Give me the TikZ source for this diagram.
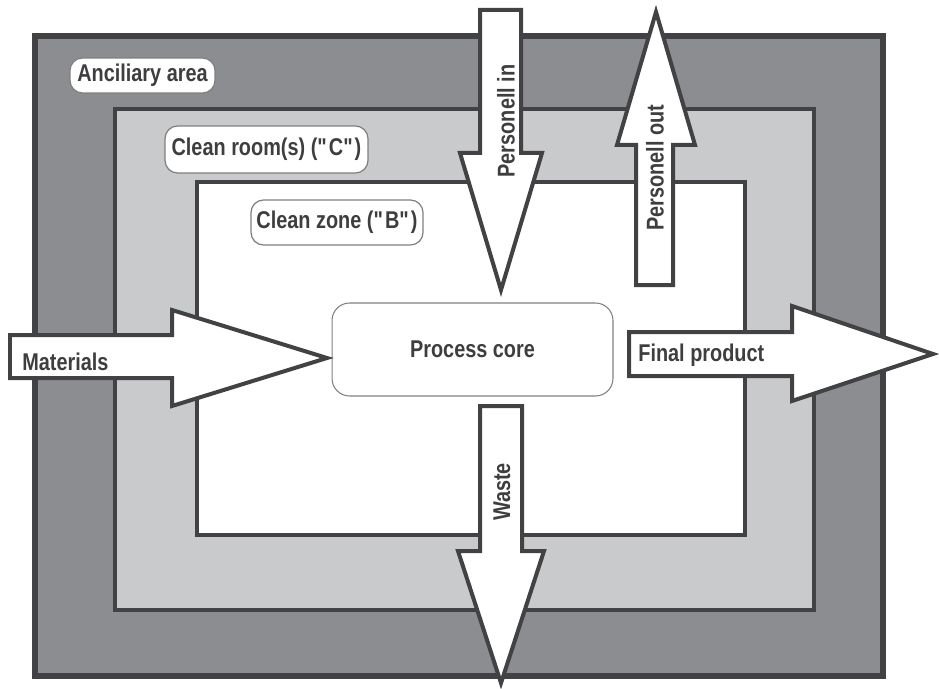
\documentclass[tikz,border=0pt]{standalone}
\usepackage{fontspec}
\setmainfont{Liberation Sans}[FakeStretch=0.82]

\definecolor{wallgray}{RGB}{66,66,68}
\definecolor{outergray}{RGB}{140,141,145}
\definecolor{roomgray}{RGB}{201,202,204}
\definecolor{textgray}{RGB}{62,62,64}

\begin{document}
\begin{tikzpicture}[
    x=0.02cm, y=-0.02cm,
    font=\fontsize{13.8}{16}\selectfont\bfseries,
    zone/.style={draw=wallgray, line width=0.08cm},
    tag/.style={draw=gray, fill=white, rounded corners=0.25cm, line width=0.7pt, text=textgray, inner sep=0pt},
    core/.style={draw=gray, fill=white, rounded corners=0.35cm, line width=0.6pt, minimum width=5.62cm, minimum height=1.86cm, text=textgray},
    bigarrow/.style={draw=wallgray, fill=white, line width=0.08cm},
    arrowtext/.style={text=textgray, inner sep=0pt}
]
\useasboundingbox (0,0) rectangle (939,689);

% areas
\draw [zone, fill=outergray, line width=0.12cm] (35,36) rectangle (883,675.5);
\draw [zone, fill=roomgray] (114.5,109.5) rectangle (813.5,610);
\draw [zone, fill=white] (197,182) rectangle (745,535);

\node (ancillary) [tag, minimum width=2.9cm, minimum height=0.7cm] at (142.5,75.5) {Anciliary area};
\node (cleanroom) [tag, minimum width=4.06cm, minimum height=0.94cm] at (266.5,149.5) {Clean room(s) (\textquotedbl C\textquotedbl)};
\node (cleanzone) [tag, minimum width=3.44cm, minimum height=0.9cm] at (337,222.5) {Clean zone (\textquotedbl B\textquotedbl)};

\node (core) [core] at (472.5,349.5) {Process core};

% flows
\draw [bigarrow] (480,10) -- (521,10) -- (521,153) -- (542,153) -- (501,290) -- (460,153) -- (480,153) -- cycle;
\node (persin) [arrowtext, rotate=90] at (506,121) {Personell in};

\draw [bigarrow] (636,285) -- (673,285) -- (673,145) -- (695,145) -- (656,12) -- (617,145) -- (636,145) -- cycle;
\node (persout) [arrowtext, rotate=90] at (655,168) {Personell out};

\draw [bigarrow] (10,335) -- (172,335) -- (172,310) -- (327,358) -- (172,406) -- (172,378) -- (10,378) -- cycle;
\node (materials) [arrowtext, anchor=west] at (22,362) {Materials};

\draw [bigarrow] (629,332) -- (792,332) -- (792,306) -- (933,354) -- (792,401) -- (792,376) -- (629,376) -- cycle;
\node (product) [arrowtext, anchor=west] at (638,355) {Final product};

\draw [bigarrow] (480,406) -- (522,406) -- (522,551) -- (544,551) -- (501,683) -- (458,551) -- (480,551) -- cycle;
\node (waste) [arrowtext, rotate=90] at (502,492) {Waste};
\end{tikzpicture}
\end{document}
